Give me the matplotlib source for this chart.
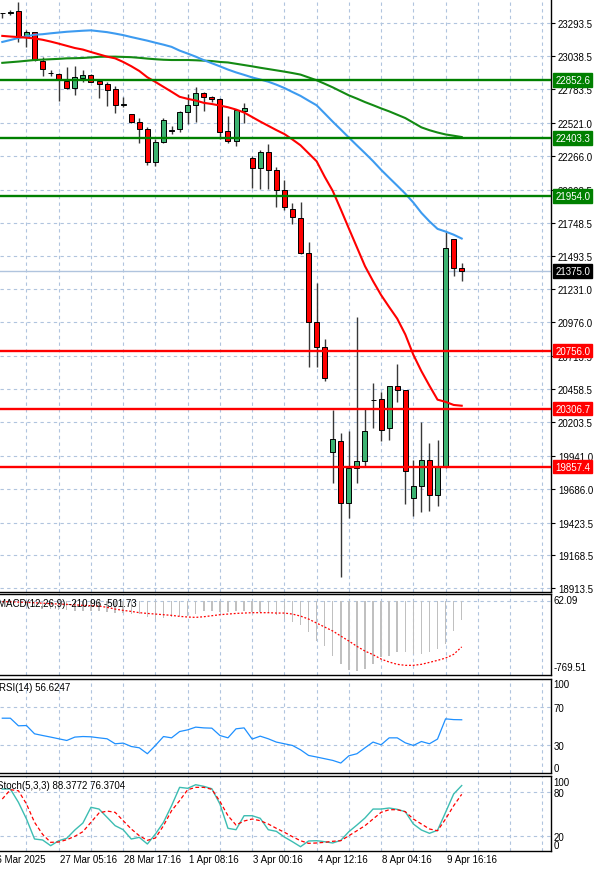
import numpy as np
import matplotlib
matplotlib.use('Agg')
from matplotlib import pyplot as plt
from matplotlib.transforms import blended_transform_factory

# ---- candles (H4-ish bars) ----
opens = [23373, 23376, 23386, 23193, 23224, 23004, 22910, 22900, 22849, 22790,
         22872, 22893, 22846, 22823, 22784, 22660, 22590, 22526, 22474, 22221,
         22371, 22458, 22474, 22604, 22660, 22753, 22725, 22707, 22461, 22383,
         22611, 22249, 22172, 22294, 22156, 22005, 21854, 21784, 21513, 20980,
         20782, 19973, 20053, 19575, 19844, 19903, 20370, 20381, 20154, 20484,
         20451, 19611, 19709, 19908, 19639, 19859, 21621, 21394]
highs = [23377, 23397, 23456, 23244, 23226, 23030, 22932, 22908, 22952, 22965,
         22932, 22900, 22862, 22836, 22810, 22720, 22592, 22559, 22492, 22397,
         22559, 22500, 22616, 22746, 22797, 22759, 22732, 22712, 22577, 22629,
         22676, 22267, 22314, 22358, 22177, 22079, 21898, 21906, 21600, 21278,
         20846, 20296, 20118, 20135, 21019, 20304, 20503, 20433, 20484, 20652,
         20451, 19908, 20205, 20038, 20063, 21673, 21621, 21435]
lows = [23335, 23360, 23146, 23108, 23004, 22883, 22883, 22689, 22784, 22740,
        22836, 22836, 22717, 22650, 22596, 22642, 22521, 22366, 22197, 22185,
        22366, 22435, 22449, 22513, 22531, 22616, 22681, 22397, 22363, 22345,
        22521, 22014, 22009, 22009, 21867, 21846, 21738, 21505, 20627, 20631,
        20523, 19730, 19001, 19456, 19730, 19864, 20156, 20053, 20066, 20360,
        19567, 19477, 19507, 19515, 19554, 19844, 21332, 21293]
closes = [23370, 23380, 23185, 23224, 23009, 22939, 22906, 22856, 22790, 22880,
          22893, 22841, 22821, 22779, 22660, 22665, 22526, 22474, 22221, 22371,
          22546, 22463, 22604, 22660, 22753, 22720, 22707, 22453, 22383, 22621,
          22637, 22172, 22298, 22156, 22004, 21866, 21790, 21513, 20980, 20787,
          20542, 20071, 19575, 19846, 19903, 20131, 20375, 20143, 20484, 20451,
          19825, 19709, 19908, 19639, 19859, 21552, 21394, 21375]

# moving averages
ma_red = [23196, 23191, 23187, 23182, 23176, 23166, 23152, 23136, 23119, 23102,
          23090, 23071, 23053, 23035, 23022, 22994, 22961, 22924, 22875, 22839,
          22801, 22763, 22724, 22708, 22695, 22677, 22668, 22656, 22643, 22625,
          22602, 22567, 22532, 22499, 22466, 22435, 22393, 22348, 22286, 22224,
          22104, 21994, 21851, 21703, 21557, 21411, 21295, 21187, 21094, 21004,
          20882, 20724, 20597, 20484, 20376, 20359, 20335, 20329]
ma_blue = [23149, 23164, 23180, 23193, 23205, 23209, 23216, 23222, 23228, 23232,
           23236, 23239, 23232, 23225, 23214, 23202, 23187, 23173, 23159, 23143,
           23128, 23111, 23082, 23059, 23035, 23008, 22984, 22960, 22935, 22913,
           22894, 22874, 22858, 22841, 22818, 22792, 22761, 22731, 22694, 22658,
           22595, 22531, 22470, 22408, 22347, 22287, 22225, 22158, 22096, 22035,
           21973, 21904, 21824, 21758, 21700, 21679, 21655, 21625]
ma_green = [22987, 22992, 22997, 23003, 23009, 23012, 23015, 23018, 23022, 23023,
            23025, 23029, 23034, 23035, 23035, 23033, 23031, 23026, 23020, 23015,
            23011, 23009, 23009, 23009, 23007, 23004, 23001, 22994, 22990, 22980,
            22970, 22960, 22949, 22939, 22929, 22919, 22908, 22896, 22874, 22852,
            22825, 22797, 22766, 22735, 22710, 22683, 22659, 22634, 22611, 22585,
            22559, 22523, 22487, 22465, 22447, 22432, 22422, 22412]

# indicators
macd = [-20, -28, -50, -55, -70, -85, -90, -100, -105, -110,
        -108, -110, -115, -120, -130, -132, -140, -145, -181, -199,
        -192, -181, -170, -163, -145, -109, -109, -127, -119, -112,
        -112, -127, -127, -134, -156, -199, -228, -264, -344, -434,
        -489, -597, -688, -749, -760, -742, -688, -615, -597, -561,
        -561, -579, -579, -561, -525, -471, -326, -210.96]
macd_signal = [-10, -12, -15, -18, -22, -27, -32, -36, -40, -45,
               -50, -54, -58, -72, -91, -105, -116, -130, -138, -145,
               -152, -159, -170, -177, -181, -174, -163, -152, -145, -138,
               -134, -130, -130, -130, -134, -134, -145, -167, -199, -243,
               -286, -329, -384, -438, -496, -547, -586, -634, -666, -691,
               -702, -702, -691, -670, -648, -623, -583, -501.73]
rsi = [58.3, 58.3, 50.2, 50.5, 41.7, 39.9, 38.2, 36.4, 34.6, 38.2,
       38.8, 38.5, 37.4, 36.4, 31.1, 31.8, 28.2, 26.8, 20.5, 29.3,
       38.8, 37.4, 44.1, 45.9, 48.8, 48.0, 47.7, 39.9, 37.4, 47.0,
       48.0, 36.1, 39.2, 36.4, 32.9, 31.1, 29.3, 24.7, 18.7, 17.0,
       15.2, 13.4, 10.6, 18.3, 20.5, 26.8, 32.9, 30.0, 37.4, 37.4,
       32.1, 29.3, 33.5, 31.1, 36.1, 57.6, 56.8, 56.6247]
stoch_k = [83.6, 83.6, 65.5, 42.7, 15.4, 14.1, 6.3, 13.1, 16.4, 27.7,
           37.2, 58.7, 56.3, 45.0, 33.6, 28.1, 15.4, 17.7, 8.6, 22.2,
           38.2, 60.8, 85.9, 84.6, 89.5, 87.3, 84.0, 63.2, 30.0, 28.1,
           47.2, 47.2, 43.7, 28.1, 25.9, 18.1, 11.7, 4.9, 12.7, 13.1,
           11.7, 10.0, 13.6, 25.4, 34.5, 44.1, 56.3, 56.3, 57.7, 55.9,
           52.7, 35.9, 27.7, 23.2, 27.3, 51.8, 76.8, 88.3772]
stoch_d = [70.0, 82.7, 81.3, 63.2, 38.2, 21.8, 10.9, 11.3, 14.5, 19.1,
           25.4, 38.2, 50.9, 53.6, 51.8, 40.4, 29.1, 19.9, 13.6, 16.8,
           33.6, 54.0, 67.7, 82.7, 85.9, 85.9, 83.2, 66.8, 47.2, 34.5,
           40.0, 42.7, 40.4, 35.9, 30.0, 24.6, 18.6, 13.1, 9.5, 10.0,
           10.9, 12.3, 13.1, 19.9, 26.7, 33.6, 42.7, 51.8, 55.4, 55.4,
           52.7, 42.7, 35.9, 29.1, 26.7, 42.7, 60.8, 76.3704]

price_ticks = [23293.5, 23038.5, 22783.5, 22521.0, 22266.0, 22003.5, 21748.5, 21493.5,
               21231.0, 20976.0, 20713.5, 20458.5, 20203.5, 19941.0, 19686.0, 19423.5,
               19168.5, 18913.5]
green_levels = [22852.6, 22403.3, 21954.0]
red_levels = [20756.0, 20306.7, 19857.4]
last_price = 21375.0

time_pos = [7, 15, 23, 31, 39, 47, 55]
time_labels = ['27 Mar 05:16', '28 Mar 17:16', '1 Apr 08:16', '3 Apr 00:16',
               '4 Apr 12:16', '8 Apr 04:16', '9 Apr 16:16']
first_label = '26 Mar 2025'

plt.rcParams['font.family'] = ['Liberation Sans', 'DejaVu Sans']
plt.rcParams['font.size'] = 7

W, H = 600, 870
fig = plt.figure(figsize=(6, 8.7), dpi=100)
fig.patch.set_facecolor('white')


def box(l, t, r, b):
    return [l / W, 1 - b / H, (r - l) / W, (b - t) / H]


ax = fig.add_axes(box(0, 0, 551, 593))
ax_macd = fig.add_axes(box(0, 595, 551, 676))
ax_rsi = fig.add_axes(box(0, 680, 551, 774))
ax_st = fig.add_axes(box(0, 777, 551, 852))

x = np.arange(len(opens))
grid_x = np.arange(3, 68, 4)
grid_kw = dict(color='#B0C4DE', linestyle=(0, (3, 3)), linewidth=0.8, zorder=0)

for a in (ax, ax_macd, ax_rsi, ax_st):
    a.set_xlim(-0.285, 68.08)
    for gx in grid_x:
        a.axvline(gx, **grid_kw)
    a.spines['left'].set_visible(False)
    for s in ('right', 'top', 'bottom'):
        a.spines[s].set_color('black')
        a.spines[s].set_linewidth(1.0)
    a.tick_params(axis='x', bottom=False, labelbottom=False)
    a.yaxis.tick_right()
    a.tick_params(axis='y', length=3, width=0.8, pad=2, labelsize=7, colors='black')
ax.spines['top'].set_visible(False)

# ---- main price panel ----
ax.set_ylim(18885, 23482)
ax.set_yticks(price_ticks)
ax.set_yticklabels([f'{v:.1f}' for v in price_ticks])
for v in price_ticks:
    ax.axhline(v, **grid_kw)

ax.axhline(last_price, color='#B0C4DE', linewidth=1.0, zorder=1)

o = np.array(opens, dtype=float)
c = np.array(closes, dtype=float)
up = c >= o
colors = np.where(up, '#3CB371', '#FF0000')
ax.vlines(x, lows, highs, color='#383838', linewidth=1.0, zorder=3)
ax.bar(x, np.maximum(np.abs(c - o), 2.0), bottom=np.minimum(o, c), width=0.62,
       color=colors, edgecolor='black', linewidth=0.7, zorder=4)

ax.plot(x, ma_green, color='#138A13', linewidth=1.5, zorder=5)
ax.plot(x, ma_blue, color='#3D9BF0', linewidth=1.5, zorder=5)
ax.plot(x, ma_red, color='#FF0000', linewidth=1.5, zorder=5)

for lv in green_levels:
    ax.axhline(lv, color='#008000', linewidth=1.7, zorder=6)
for lv in red_levels:
    ax.axhline(lv, color='#FF0000', linewidth=1.7, zorder=6)

trans = blended_transform_factory(ax.transAxes, ax.transData)
for lv, col in [(v, '#008000') for v in green_levels] + [(v, '#FF0000') for v in red_levels] + [(last_price, 'black')]:
    ax.text(1.0075, lv, f'{lv:.1f}', transform=trans, ha='left', va='center',
            color='white', fontsize=7, zorder=10, clip_on=False,
            bbox=dict(boxstyle='square,pad=0.18', facecolor=col, edgecolor=col))

# ---- MACD ----
ax_macd.set_ylim(-807, 73)
ax_macd.axhline(0, **grid_kw)
ax_macd.bar(x, macd, width=0.18, color='#C0C0C0', zorder=2)
ax_macd.plot(x, macd_signal, color='#FF0000', linestyle=(0, (1.5, 1.5)), linewidth=0.9, zorder=3)
ax_macd.set_yticks([62.09, -769.51])
ax_macd.set_yticklabels(['62.09', '-769.51'])
ax_macd.tick_params(axis='y', length=0)
lbl = ax_macd.get_yticklabels()
lbl[0].set_va('top')
lbl[1].set_va('bottom')
fig.text(-2 / W, 1 - 604 / H, f'MACD(12,26,9) {macd[-1]:.2f} {macd_signal[-1]:.2f}',
         ha='left', va='center', fontsize=7)

# ---- RSI ----
ax_rsi.set_ylim(0, 100)
for lv in (70, 30):
    ax_rsi.axhline(lv, **grid_kw)
ax_rsi.plot(x, rsi, color='#1E90FF', linewidth=0.9, zorder=3)
ax_rsi.set_yticks([100, 70, 30, 0])
ax_rsi.set_yticklabels(['100', '70', '30', '0'])
ax_rsi.tick_params(axis='y', length=0)
lbl = ax_rsi.get_yticklabels()
lbl[0].set_va('top')
lbl[3].set_va('bottom')
fig.text(-1 / W, 1 - 688 / H, f'RSI(14) {rsi[-1]:.4f}', ha='left', va='center', fontsize=7)

# ---- Stochastic ----
ax_st.set_ylim(-0.95, 101.4)
for lv in (80, 20):
    ax_st.axhline(lv, **grid_kw)
ax_st.plot(x, stoch_k, color='#3CBDB2', linewidth=1.0, zorder=3)
ax_st.plot(x, stoch_d, color='#FF0000', linestyle=(0, (3, 2)), linewidth=0.9, zorder=3)
ax_st.set_yticks([100, 80, 20, 0])
ax_st.set_yticklabels(['100', '80', '20', '0'])
ax_st.tick_params(axis='y', length=0)
lbl = ax_st.get_yticklabels()
lbl[0].set_va('top')
lbl[3].set_va('bottom')
fig.text(-3 / W, 1 - 786 / H, f'Stoch(5,3,3) {stoch_k[-1]:.4f} {stoch_d[-1]:.4f}',
         ha='left', va='center', fontsize=7)

# time axis labels
ttrans = blended_transform_factory(ax_st.transData, ax_st.transAxes)
for p, t in zip(time_pos, time_labels):
    ax_st.text(p + 0.15, -8 / 75, t, transform=ttrans, ha='left', va='center',
               fontsize=7, clip_on=False)
ax_st.text(time_pos[0] - 1.7, -8 / 75, first_label, transform=ttrans, ha='right',
           va='center', fontsize=7, clip_on=False)

fig.savefig('out.png', dpi=100, facecolor='white')
